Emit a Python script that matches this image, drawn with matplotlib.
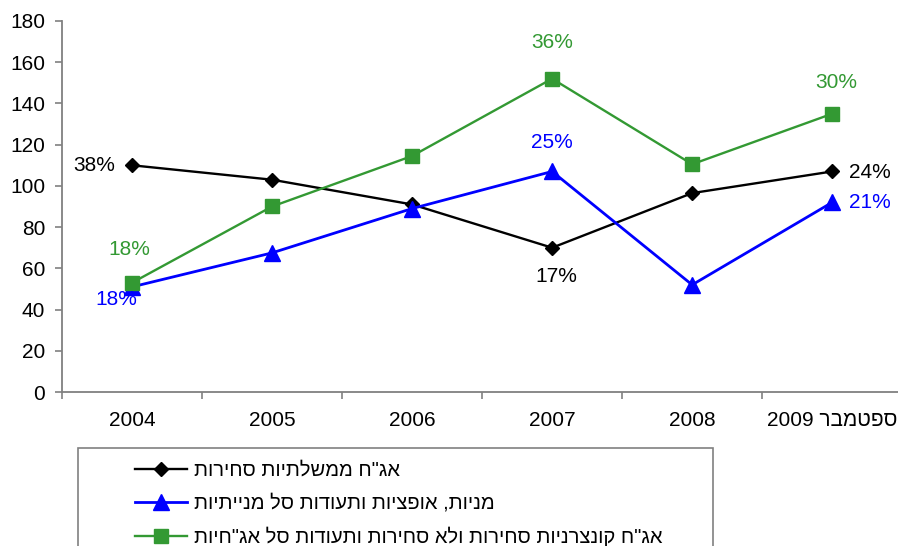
"""
Bond / equity / corporate bond holdings, 2004 - Sept 2009
"""
import matplotlib
matplotlib.use("Agg")
import matplotlib.pyplot as plt
from matplotlib.patches import Rectangle

plt.rcParams['font.family'] = ['Liberation Sans', 'DejaVu Sans']

# categories and series values
YEARS = ["2004", "2005", "2006", "2007", "2008", "ספטמבר 2009"]
GOV_BONDS = [110, 103, 91, 70, 96.5, 107]
EQUITY = [51, 67.5, 89, 107, 52, 92]
CORP_BONDS = [53, 90, 114.5, 152, 110.5, 135]

SERIES_NAMES = [
    'אג"ח ממשלתיות סחירות',
    'מניות, אופציות ותעודות סל מנייתיות',
    'אג"ח קונצרניות סחירות ולא סחירות ותעודות סל אג"חיות',
]

# percentage labels: (series index, category index, text)
LABELS = [
    (0, 0, "38%"), (1, 0, "18%"), (2, 0, "18%"),
    (0, 3, "17%"), (1, 3, "25%"), (2, 3, "36%"),
    (2, 5, "30%"), (0, 5, "24%"), (1, 5, "21%"),
]

COLORS = ["black", "#0000ff", "#339933"]
MARKERS = [("D", 7.5), ("^", 11), ("s", 10.5)]
FONT_SIZE = 15
LEGEND_SIZE = 14.5
# label offsets in pixels, with horizontal alignment
OFFSETS = {
    (0, 0): (-17, 0, "right"), (1, 0): (-16, -13, "center"),
    (2, 0): (-3, 33, "center"), (0, 3): (4, -29, "center"),
    (1, 3): (0, 29, "center"), (2, 3): (0, 36, "center"),
    (2, 5): (4, 31, "center"), (0, 5): (17, -1, "left"),
    (1, 5): (17, 0, "left"),
}


def visual(text):
    """matplotlib has no bidi: put Hebrew words in visual (left-to-right) order"""
    if text.isascii():
        return text
    if text.endswith("2009"):
        word, year = text.split(" ")
        return year + " " + word[::-1]
    return text[::-1]


def main():
    fig = plt.figure(figsize=(8.98, 5.46), dpi=100)
    ax = fig.add_axes([62 / 898, 1 - 392 / 546, 1 - 62 / 898, (392 - 21) / 546])

    data = [GOV_BONDS, EQUITY, CORP_BONDS]
    xs = list(range(len(YEARS)))
    lines = []
    for idx, values in enumerate(data):
        marker, size = MARKERS[idx]
        line, = ax.plot(xs, values, color=COLORS[idx], marker=marker,
                        markersize=size, linewidth=2.0 if idx == 1 else 1.7,
                        label=visual(SERIES_NAMES[idx]), clip_on=False)
        lines.append(line)

    for (sidx, cidx, text) in LABELS:
        dx, dy, ha = OFFSETS[(sidx, cidx)]
        ax.annotate(text, (cidx, data[sidx][cidx]), xytext=(dx, dy),
                    textcoords="offset pixels", ha=ha, va="center",
                    color=COLORS[sidx], fontsize=FONT_SIZE)

    # axes styling
    ax.set_ylim(0, 180)
    ax.set_yticks(range(0, 181, 20))
    ax.set_xlim(-0.5, 5.47)
    ax.set_xticks(xs)
    ax.set_xticklabels([visual(y) for y in YEARS])
    ax.set_xticks([x - 0.5 for x in xs], minor=True)
    for side in ("top", "right"):
        ax.spines[side].set_visible(False)
    for side in ("left", "bottom"):
        ax.spines[side].set_color("#808080")
        ax.spines[side].set_linewidth(1.3)
    ax.tick_params(axis="y", length=5, width=1.2, color="#808080",
                   labelsize=FONT_SIZE, pad=7)
    ax.tick_params(axis="x", which="major", length=0, labelsize=FONT_SIZE,
                   pad=14)
    ax.tick_params(axis="x", which="minor", length=5, width=1.2,
                   color="#808080")

    # legend box (runs off the bottom of the figure)
    top = 1 - 448 / 546
    fig.patches.append(Rectangle((78 / 898, -0.1), (713 - 78) / 898,
                                 top + 0.1, transform=fig.transFigure,
                                 facecolor="none", edgecolor="#808080",
                                 linewidth=1.2))
    fig.legend(handles=lines, loc="upper left",
               bbox_to_anchor=(135 / 898, 1 - 461 / 546), frameon=False,
               fontsize=LEGEND_SIZE, handlelength=2.6, handletextpad=0.35,
               labelspacing=0.68, borderpad=0, borderaxespad=0)

    fig.savefig("out.png", dpi=100)
    plt.close(fig)


if __name__ == "__main__":
    main()
